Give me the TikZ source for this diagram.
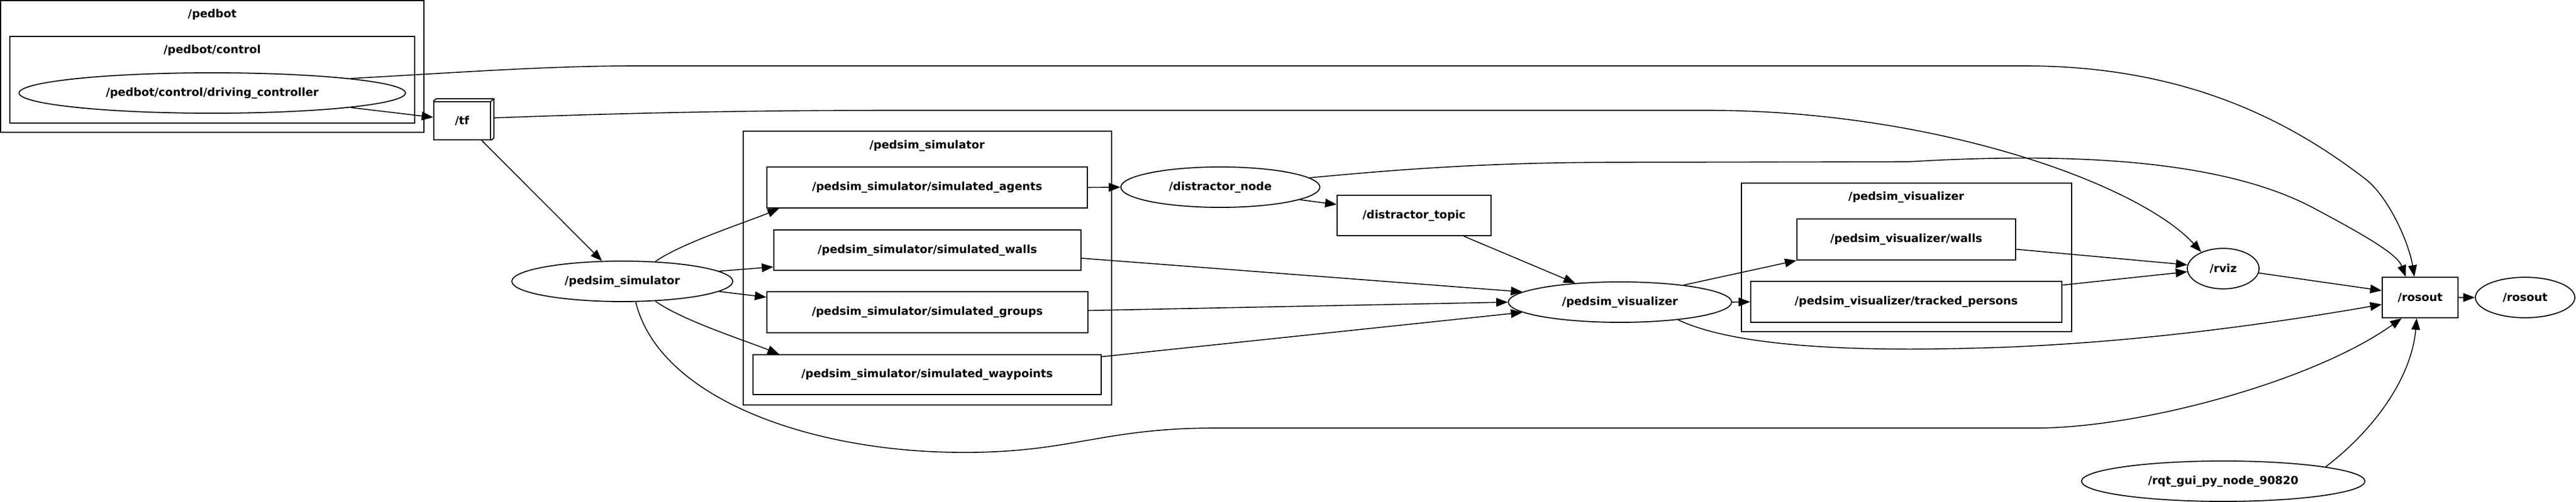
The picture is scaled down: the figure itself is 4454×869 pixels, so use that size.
\documentclass[tikz,border=0pt]{standalone}
\usepackage{fontspec}
\setmainfont{DejaVu Sans}
\usetikzlibrary{arrows.meta,shapes.geometric}
\begin{document}
\begin{tikzpicture}[x=1pt,y=-1pt,
  txt/.style={font=\fontsize{19.3pt}{23pt}\selectfont\bfseries, inner sep=0pt},
  rnode/.style={txt, ellipse, draw, line width=1.8pt, inner sep=0pt, minimum height=70pt},
  topic/.style={txt, rectangle, draw, line width=1.8pt, inner sep=0pt, minimum height=70pt},
  cluster/.style={draw, line width=1.5pt},
  edge/.style={line width=1.6pt, -{Triangle[length=20pt,width=15pt]}}]
\useasboundingbox (0,0) rectangle (4454,869);
\fill[white] (0,0) rectangle (4454,869);
% clusters
\draw[cluster] (1,1) rectangle (733,229);
\node[txt] (lpedbot) at (367,25) {/pedbot};
\draw[cluster] (17,63) rectangle (717,213);
\node[txt] (lcontrol) at (367,87) {/pedbot/control};
\draw[cluster] (1285,227) rectangle (1922,701);
\node[txt] (lsim) at (1603,252) {/pedsim\_simulator};
\draw[cluster] (3011,317) rectangle (3582,574);
\node[txt] (lvis) at (3296,341) {/pedsim\_visualizer};
% nodes
\node[rnode, minimum width=668pt] (dc) at (367,161) {/pedbot/control/driving\_controller};
\node[topic, minimum width=98pt, minimum height=66pt] (tf) at (799,209) {/tf};
\draw[line width=1.8pt] (tf.north west) -- ++(5,-4) -| ([xshift=5pt,yshift=4pt]tf.south east) -- (tf.south east);
\draw[line width=1.8pt] (tf.north east) -- ++(5,-4);
\node[rnode, minimum width=382pt] (ps) at (1076,487) {/pedsim\_simulator};
\node[topic, minimum width=554pt, minimum height=71pt] (agents) at (1603,324.5) {/pedsim\_simulator/simulated\_agents};
\node[topic, minimum width=531pt] (walls) at (1603.5,433) {/pedsim\_simulator/simulated\_walls};
\node[topic, minimum width=555pt, minimum height=71pt] (groups) at (1603.5,540.5) {/pedsim\_simulator/simulated\_groups};
\node[topic, minimum width=602pt, minimum height=69pt] (waypoints) at (1603,648.5) {/pedsim\_simulator/simulated\_waypoints};
\node[rnode, minimum width=344pt] (dn) at (2110,324) {/distractor\_node};
\node[topic, minimum width=266pt] (dt) at (2445,373) {/distractor\_topic};
\node[rnode, minimum width=386pt] (pv) at (2801,523) {/pedsim\_visualizer};
\node[topic, minimum width=378pt, minimum height=71pt] (pvw) at (3296,414.5) {/pedsim\_visualizer/walls};
\node[topic, minimum width=538pt, minimum height=71pt] (pvt) at (3296,522.5) {/pedsim\_visualizer/tracked\_persons};
\node[rnode, minimum width=124pt] (rviz) at (3844,465) {/rviz};
\node[topic, minimum width=131pt] (rosoutT) at (4184.5,515) {/rosout};
\node[rnode, minimum width=172pt] (rosoutN) at (4366,515) {/rosout};
\node[rnode, minimum width=490pt] (rqt) at (3844,833) {/rqt\_gui\_py\_node\_90820};
% edges
\draw[edge] (dc.-6) -- (tf);
\draw[edge] (dc.6) .. controls (800,125) and (950,114) .. (1100,114) -- (3500,114)
   .. controls (3780,114) and (3960,210) .. (4090,310)
   .. controls (4130,341) and (4165,420) .. ([xshift=-10pt]rosoutT.north);
\draw[edge] (tf) -- (ps);
\draw[edge] ([xshift=6pt,yshift=5pt]tf.east) .. controls (1100,195) and (1300,191) .. (1560,191) -- (2950,191)
   .. controls (3350,191) and (3700,320) .. (rviz.143);
\draw[edge] (ps.31) .. controls (1180,420) and (1290,385) .. ([xshift=22pt]agents.south west);
\draw[edge] (ps.6) -- ([yshift=-29pt]walls.west);
\draw[edge] (ps.-6) -- ([yshift=26pt]groups.west);
\draw[edge] (ps.-31) .. controls (1180,555) and (1290,590) .. ([xshift=46pt]waypoints.north west);
\draw[edge] (ps.-57) .. controls (1140,690) and (1400,780) .. (1650,783)
   .. controls (1850,786) and (1900,741) .. (2100,741) -- (3520,741)
   .. controls (3700,741) and (4000,660) .. ([xshift=-32pt]rosoutT.south);
\draw[edge] (agents.east) -- (dn.west);
\draw[edge] ([yshift=-14pt]walls.east) -- (pv.174);
\draw[edge] ([yshift=3pt]groups.east) -- (pv.west);
\draw[edge] ([yshift=31pt]waypoints.east) -- (pv.186);
\draw[edge] (dn.-9) -- ([yshift=19pt]dt.west);
\draw[edge] (dn.6) .. controls (2450,290) and (2600,281) .. (2800,281) -- (3300,280)
   .. controls (3600,262) and (3850,280) .. (4000,360)
   .. controls (4090,408) and (4145,440) .. ([xshift=-25pt]rosoutT.north);
\draw[edge] ([xshift=86pt]dt.south) -- (pv.157);
\draw[edge] (pv.15) -- (pvw.south west);
\draw[edge] (pv.east) -- (pvt.west);
\draw[edge] (pv.-17) .. controls (3000,600) and (3200,608) .. (3400,603)
   .. controls (3650,598) and (3900,565) .. ([yshift=-12pt]rosoutT.west);
\draw[edge] ([yshift=-17pt]pvw.east) -- (rviz.174);
\draw[edge] ([yshift=29pt]pvt.east) -- (rviz.185);
\draw[edge] (rviz.-7) -- ([yshift=12pt]rosoutT.west);
\draw[edge] (rosoutT.east) -- (rosoutN.west);
\draw[edge] (rqt.8) .. controls (4110,740) and (4170,650) .. ([xshift=-6pt]rosoutT.south);
\end{tikzpicture}
\end{document}
